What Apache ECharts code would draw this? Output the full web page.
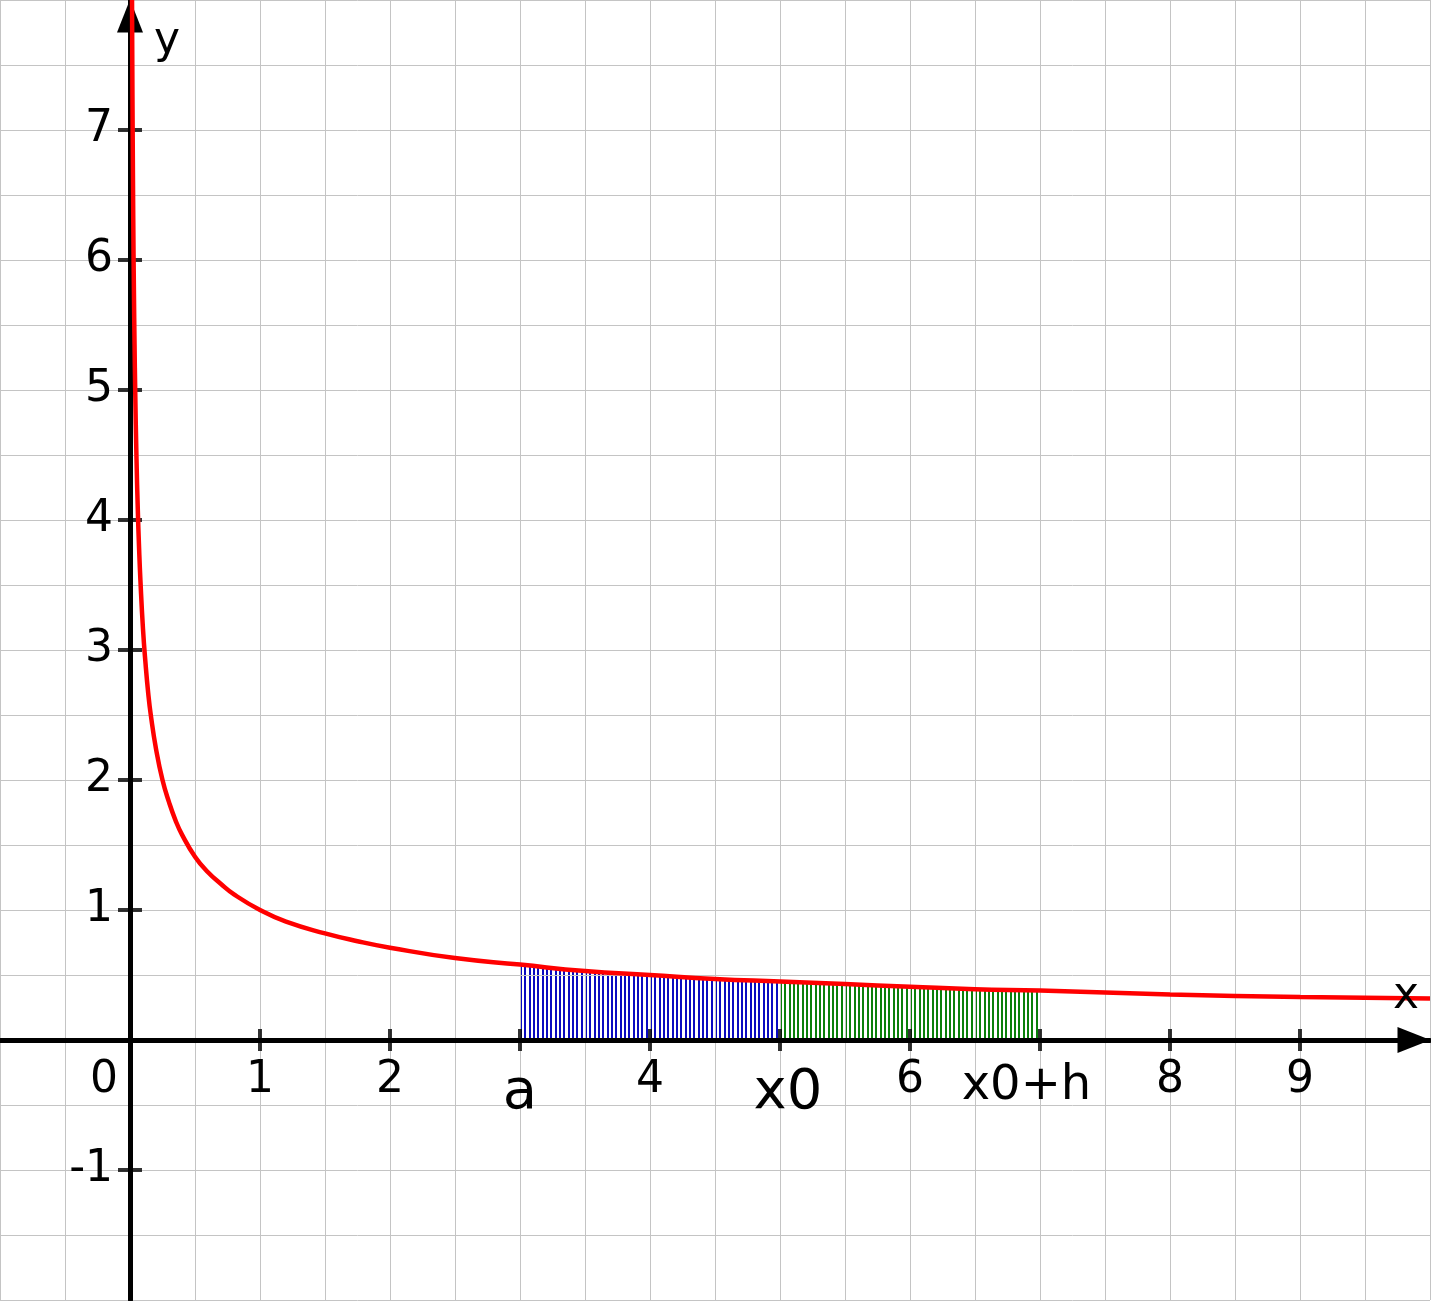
<!DOCTYPE html>
<html>
<head>
<meta charset="utf-8">
<style>
  html, body { margin: 0; padding: 0; background: #ffffff; }
  #chart { width: 1431px; height: 1301px; }
</style>
<script src="https://cdn.jsdelivr.net/npm/echarts@6/dist/echarts.min.js"></script>
</head>
<body>
<div id="chart"></div>
<script>
// ---- data ----
const xTickValues = [1, 2, 3, 4, 5, 6, 7, 8, 9];
const xTickLabels = ['1', '2', 'a', '4', 'x0', '6', 'x0+h', '8', '9'];
const originLabel = '0';
const yTickValues = [-1, 1, 2, 3, 4, 5, 6, 7];
const yTickLabels = ['-1', '1', '2', '3', '4', '5', '6', '7'];
const xAxisName = 'x';
const yAxisName = 'y';

// red curve, points
const curveX = [0.0156, 0.018, 0.02, 0.025, 0.03, 0.035, 0.04, 0.05, 0.06, 0.07, 0.08, 0.1, 0.12, 0.14, 0.16, 0.2, 0.25, 0.3, 0.35, 0.4, 0.5, 0.6, 0.7, 0.8, 1.0, 1.2, 1.5, 1.75, 2.0, 2.5, 3.0, 3.5, 4.0, 4.5, 5.0, 5.5, 6.0, 6.5, 7.0, 8.0, 9.0, 10.0];
const curveY = [8.0, 7.45, 7.07, 6.32, 5.77, 5.35, 5.0, 4.47, 4.08, 3.78, 3.54, 3.16, 2.89, 2.67, 2.5, 2.24, 2.0, 1.83, 1.69, 1.58, 1.41, 1.29, 1.2, 1.12, 1.0, 0.91, 0.82, 0.76, 0.71, 0.63, 0.58, 0.53, 0.5, 0.47, 0.45, 0.43, 0.41, 0.39, 0.38, 0.35, 0.33, 0.32];

// shaded intervals: a .. x0 (blue), x0 .. x0+h (green)
const shadeBounds = [3, 5, 7];

// ---- build ----
const FONT = 'DejaVu Sans';
const X_MIN = -1, X_MAX = 10, Y_MIN = -2, Y_MAX = 8;
const GRID = { left: 0, top: 0, width: 1430, height: 1300 };
const curve = curveX.map((x, i) => [x, curveY[i]]);
const part = (lo, hi) => curve.filter(p => p[0] >= lo - 1e-9 && p[0] <= hi + 1e-9);

// axes drawn through the origin
const xAxisOffset = -GRID.height * (0 - Y_MIN) / (Y_MAX - Y_MIN);
const yAxisOffset = -GRID.width * (0 - X_MIN) / (X_MAX - X_MIN);

function stripes(color) {
  const c = document.createElement('canvas');
  c.width = 13; c.height = 4;
  const g = c.getContext('2d');
  g.fillStyle = color;
  [0, 4, 9].forEach(x => g.fillRect(x, 0, 2, 4));
  return c;
}

const bigStyle = { a: 'big', 'x0': 'bigR', 'x0+h': 'mid' };
const axisLine = {
  onZero: false, symbol: ['none', 'triangle'], symbolSize: [26, 33], symbolOffset: [0, -16],
  lineStyle: { color: '#000', width: 5 }
};
const gridLine = { show: true, lineStyle: { color: '#c4c4c4', width: 1 } };

const chart = echarts.init(document.getElementById('chart'), null, { renderer: 'canvas' });
chart.setOption({
  backgroundColor: '#ffffff',
  animation: false,
  grid: Object.assign({ containLabel: false, outerBoundsMode: 'none' }, GRID),
  xAxis: {
    type: 'value', min: X_MIN, max: X_MAX, interval: 0.5, z: 5,
    position: 'bottom', offset: xAxisOffset,
    axisLine: axisLine,
    axisTick: { show: false },
    splitLine: gridLine,
    axisLabel: {
      margin: 19, fontFamily: FONT, fontSize: 44, color: '#000',
      showMinLabel: true, showMaxLabel: true,
      formatter: function (v) {
        if (Math.abs(v) < 1e-9) return '{zero|' + originLabel + '}';
        const i = xTickValues.findIndex(t => Math.abs(t - v) < 1e-9);
        if (i < 0) return '';
        const s = xTickLabels[i];
        return bigStyle[s] ? '{' + bigStyle[s] + '|' + s + '}' : s;
      },
      rich: {
        zero: { fontFamily: FONT, fontSize: 44, color: '#000', padding: [0, 52, 0, 0] },
        big: { fontFamily: FONT, fontSize: 56, color: '#000', padding: [6, 0, 0, 0] },
        bigR: { fontFamily: FONT, fontSize: 56, color: '#000', padding: [6, 0, 0, 16] },
        mid: { fontFamily: FONT, fontSize: 48, color: '#000', padding: [4, 27, 0, 0] }
      }
    }
  },
  yAxis: {
    type: 'value', min: Y_MIN, max: Y_MAX, interval: 0.5, z: 5,
    position: 'left', offset: yAxisOffset,
    axisLine: axisLine,
    axisTick: { show: false },
    splitLine: gridLine,
    axisLabel: {
      margin: 17, fontFamily: FONT, fontSize: 44, color: '#000',
      formatter: function (v) {
        const i = yTickValues.findIndex(t => Math.abs(t - v) < 1e-9);
        return i < 0 ? '' : yTickLabels[i];
      }
    }
  },
  series: [
    {
      type: 'line', data: part(shadeBounds[0], shadeBounds[1]), smooth: true,
      symbol: 'none', lineStyle: { width: 0 }, z: 2, silent: true,
      areaStyle: { color: { image: stripes('#0a0ac0'), repeat: 'repeat' }, opacity: 1 }
    },
    {
      type: 'line', data: part(shadeBounds[1], shadeBounds[2]), smooth: true,
      symbol: 'none', lineStyle: { width: 0 }, z: 2, silent: true,
      areaStyle: { color: { image: stripes('#0a800a'), repeat: 'repeat' }, opacity: 1 }
    },
    {
      type: 'scatter', data: xTickValues.map(v => [v, 0]), symbol: 'rect', symbolSize: [4, 22],
      itemStyle: { color: '#000' }, z: 6, silent: true
    },
    {
      type: 'scatter', data: yTickValues.map(v => [0, v]), symbol: 'rect', symbolSize: [24, 4],
      itemStyle: { color: '#000' }, z: 6, silent: true
    },
    {
      type: 'line', data: curve, smooth: true, symbol: 'none',
      lineStyle: { color: '#ff0000', width: 4.5 }, z: 7, silent: true
    }
  ]
});

// axis names next to the arrow heads
const xEnd = chart.convertToPixel({ gridIndex: 0 }, [X_MAX, 0]);
const yEnd = chart.convertToPixel({ gridIndex: 0 }, [0, Y_MAX]);
const nameStyle = { fontFamily: FONT, fontSize: 44, fill: '#000', textAlign: 'center', textVerticalAlign: 'middle' };
chart.setOption({
  graphic: [
    { type: 'text', x: xEnd[0] - 24, y: xEnd[1] - 43, z: 10, style: Object.assign({ text: xAxisName }, nameStyle) },
    { type: 'text', x: yEnd[0] + 37, y: yEnd[1] + 42, z: 10, style: Object.assign({ text: yAxisName }, nameStyle) }
  ]
});
</script>
</body>
</html>
